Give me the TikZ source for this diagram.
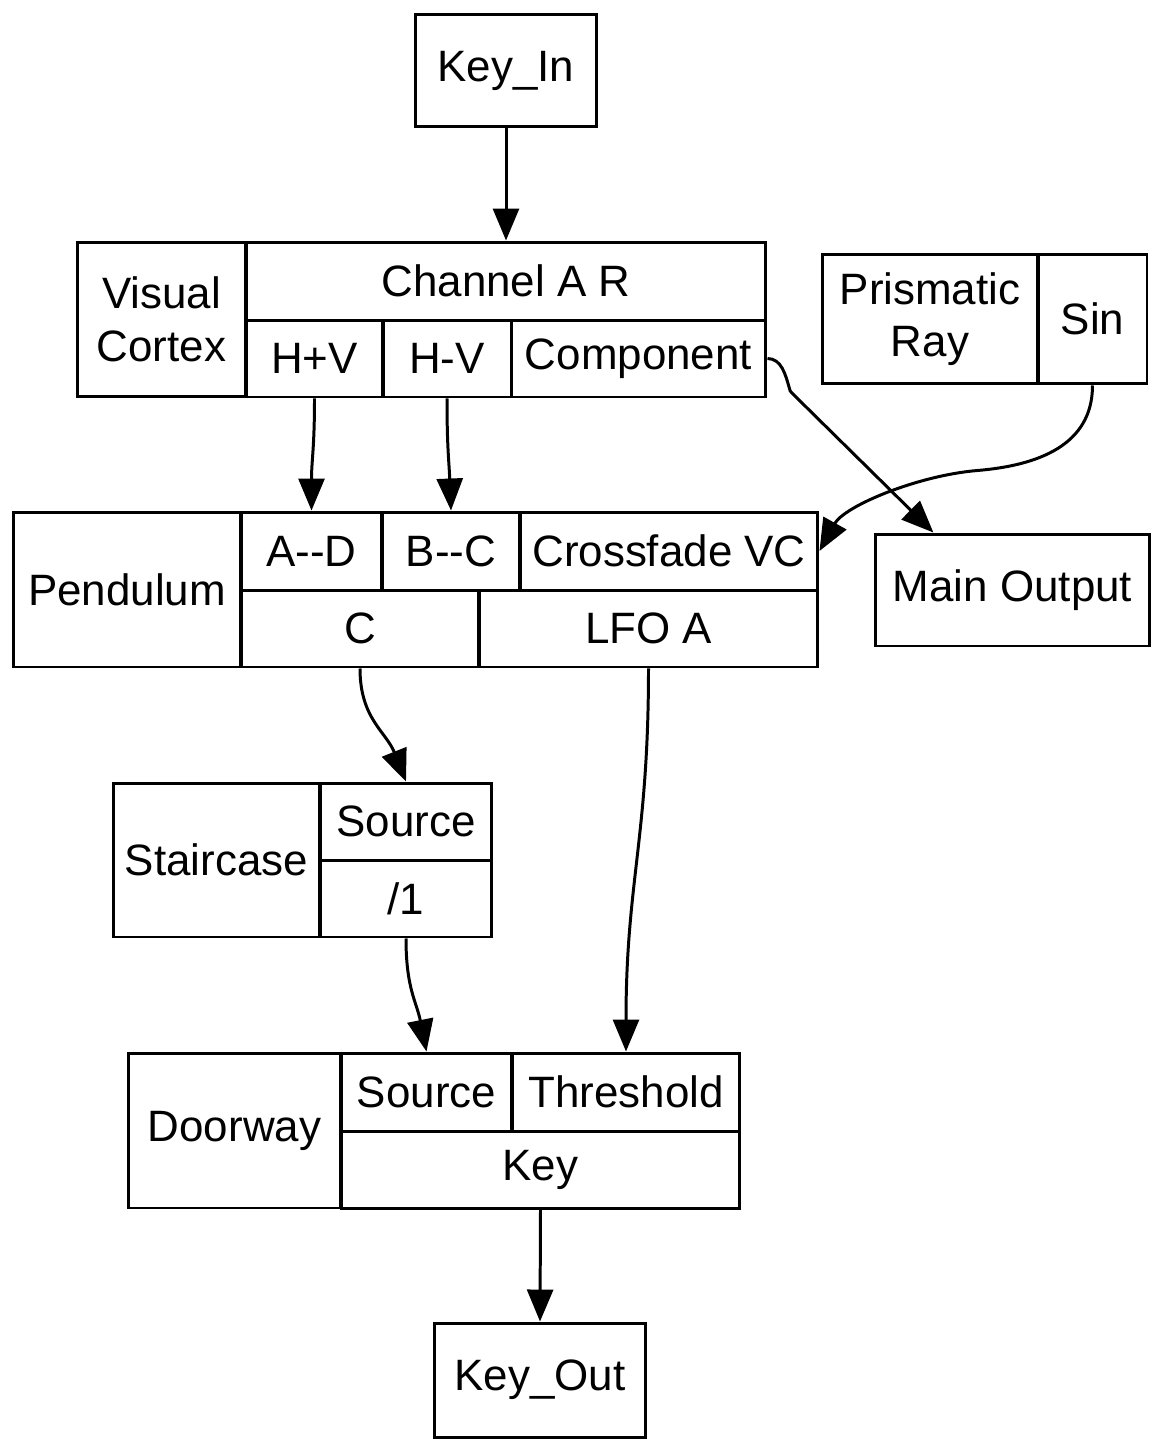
\documentclass[tikz,border=0pt]{standalone}
\usepackage{fontspec}
\setmainfont{Liberation Sans}
\usetikzlibrary{arrows.meta}

\tikzset{
  cell/.style={draw, line width=1.7pt, inner sep=0pt, align=center,
    font=\fontsize{25}{30}\selectfont},
  edge/.style={line width=1.7pt, -{Triangle[length=0.64cm, width=0.52cm]}},
}

\begin{document}
\begin{tikzpicture}[x=0.02cm, y=-0.02cm]
  \useasboundingbox (0,0) rectangle (1162,1450);

  % plain boxes
  \node[cell, minimum width=3.64cm, minimum height=2.26cm] (keyin) at (506,70.5) {Key\_In};
  \node[cell, minimum width=5.50cm, minimum height=2.24cm] (mo) at (1012.5,590) {Main Output};
  \node[cell, minimum width=4.24cm, minimum height=2.28cm] (keyout) at (540,1380) {Key\_Out};

  % Visual Cortex
  \node[cell, minimum width=3.38cm, minimum height=3.10cm] (vc) at (161.5,319.5) {Visual\\Cortex};
  \node[cell, minimum width=10.40cm, minimum height=1.56cm] (vc_ch) at (506,281) {Channel A R};
  \node[cell, minimum width=2.74cm, minimum height=1.54cm] (vc_hpv) at (314.5,358.5) {H+V};
  \node[cell, minimum width=2.56cm, minimum height=1.54cm] (vc_hmv) at (447,358.5) {H-V};
  \node[cell, minimum width=5.10cm, minimum height=1.54cm] (vc_comp) at (638.5,358.5) {Component};

  % Prismatic Ray
  \node[cell, minimum width=4.32cm, minimum height=2.60cm] (pr) at (930,319) {Prismatic\\Ray};
  \node[cell, minimum width=2.18cm, minimum height=2.60cm] (pr_sin) at (1092.5,319) {Sin};

  % Pendulum
  \node[cell, minimum width=4.56cm, minimum height=3.10cm] (pd) at (127,589.5) {Pendulum};
  \node[cell, minimum width=2.82cm, minimum height=1.56cm] (pd_ad) at (311.5,551) {A-{}-D};
  \node[cell, minimum width=2.76cm, minimum height=1.56cm] (pd_bc) at (451,551) {B-{}-C};
  \node[cell, minimum width=5.96cm, minimum height=1.56cm] (pd_cf) at (669,551) {Crossfade VC};
  \node[cell, minimum width=4.76cm, minimum height=1.54cm] (pd_c) at (360,628.5) {C};
  \node[cell, minimum width=6.78cm, minimum height=1.54cm] (pd_lfo) at (648.5,628.5) {LFO A};

  % Staircase
  \node[cell, minimum width=4.14cm, minimum height=3.08cm] (st) at (216.5,860) {Staircase};
  \node[cell, minimum width=3.44cm, minimum height=1.54cm] (st_src) at (406,821.5) {Source};
  \node[cell, minimum width=3.44cm, minimum height=1.54cm] (st_div) at (406,898.5) {/1};

  % Doorway
  \node[cell, minimum width=4.26cm, minimum height=3.10cm] (dw) at (234.5,1130.5) {Doorway};
  \node[cell, minimum width=3.42cm, minimum height=1.56cm] (dw_src) at (426.5,1092) {Source};
  \node[cell, minimum width=4.56cm, minimum height=1.56cm] (dw_thr) at (626,1092) {Threshold};
  \node[cell, minimum width=7.98cm, minimum height=1.54cm] (dw_key) at (540.5,1169.5) {Key};

  % connectors
  \draw[edge] (keyin.south) -- (vc_ch.north);
  \draw[edge] (vc_hpv.south) .. controls +(0,50) and +(0,-50) .. (pd_ad.north);
  \draw[edge] (vc_hmv.south) .. controls +(0,50) and +(-2,-50) .. (pd_bc.north);
  \draw[edge] (vc_comp.east) .. controls +(14,0) and +(-4,-14) .. ++(22,30)
    .. controls +(2,4) and +(-8,-8) .. ++(6,8) -- (mo.144);
  \draw[edge] (pr_sin.south) .. controls +(0,60) and +(60,-5) .. ++(-115,85)
    .. controls +(-60,5) and +(25,-45) .. (pd_cf.east);
  \draw[edge] (pd_c.south) .. controls +(0,50) and +(-20,-50) .. (st_src.north);
  \draw[edge] (pd_lfo.south) .. controls +(0,170) and +(0,-170) .. (dw_thr.north);
  \draw[edge] (st_div.south) .. controls +(0,50) and +(-10,-50) .. (dw_src.north);
  \draw[edge] (dw_key.south) -- (keyout.north);
\end{tikzpicture}
\end{document}
